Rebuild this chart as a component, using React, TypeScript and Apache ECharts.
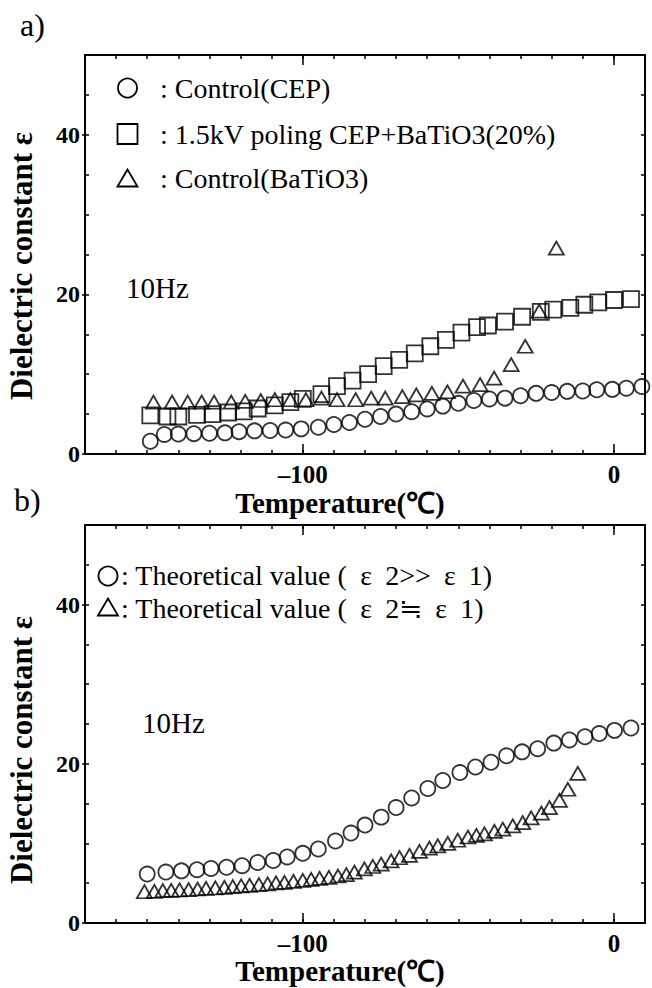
import React, { useEffect, useRef } from 'react';
import * as echarts from 'echarts';

// ---- tick values ----
const xMajorTicks = [-100, 0];
const yMajorTicks = [0, 20, 40];

// ---- panel a ----
const aCepT = [-149, -144.5, -140, -135, -130, -125, -120.5, -115.5, -110.5, -105.5, -100.5, -95, -90, -85, -80, -75, -70, -65, -60, -55, -50, -45, -40, -35, -30, -25, -20, -15, -10, -5.5, -0.5, 4, 9];
const aCepV = [1.6, 2.45, 2.5, 2.55, 2.6, 2.65, 2.8, 2.9, 2.95, 3.0, 3.15, 3.35, 3.7, 3.95, 4.35, 4.7, 5.0, 5.3, 5.65, 6.0, 6.35, 6.7, 6.9, 7.0, 7.3, 7.6, 7.7, 7.85, 7.9, 8.05, 8.1, 8.25, 8.45];

const aPolT = [-149, -143.5, -140, -134, -129, -124, -119, -114.5, -109, -104, -100, -94, -89, -84, -79, -74, -69, -64, -59, -54, -49, -44, -40.5, -35, -29.5, -23.5, -19.5, -14, -9.5, -5, 0, 5.5];
const aPolV = [4.85, 4.7, 4.7, 4.9, 5.0, 5.2, 5.35, 5.7, 6.1, 6.5, 6.9, 7.5, 8.5, 9.2, 10.0, 11.0, 11.8, 12.6, 13.5, 14.3, 15.2, 15.9, 16.1, 16.6, 17.2, 17.8, 18.1, 18.3, 18.7, 19.0, 19.3, 19.4];

const aBtoT = [-148, -142, -137, -132.5, -128.5, -123, -118.5, -113.5, -109, -104, -99, -94, -89, -83, -78, -73.5, -68, -63.5, -58.5, -53.5, -48.5, -43, -38.5, -33, -28.5, -24, -18.5];
const aBtoV = [6.5, 6.5, 6.5, 6.5, 6.5, 6.5, 6.6, 6.7, 6.8, 6.8, 6.8, 7.0, 6.8, 6.8, 7.0, 7.0, 7.2, 7.4, 7.6, 7.8, 8.5, 8.7, 9.5, 11.2, 13.5, 17.9, 25.8];

// ---- panel b ----
const bHighT = [-150, -144, -139, -134, -129.5, -124.5, -119.5, -114.5, -109.5, -105, -100, -95, -89.5, -84.5, -80, -74.8, -70, -65, -59.8, -55, -49.5, -44.5, -39.5, -34.5, -29.5, -24.5, -19.3, -14.3, -9.3, -4.7, 0.2, 5.5];
const bHighV = [6.15, 6.4, 6.55, 6.7, 6.85, 7.0, 7.2, 7.6, 7.85, 8.3, 8.75, 9.3, 10.3, 11.3, 12.3, 13.3, 14.5, 15.7, 16.9, 17.9, 18.9, 19.6, 20.2, 21.0, 21.5, 21.9, 22.6, 23.0, 23.4, 23.8, 24.2, 24.5];

const bEqT = [-150.9, -147.7, -145.0, -142.3, -139.6, -136.7, -133.8, -131.1, -128.1, -125.2, -122.5, -119.8, -117.1, -114.1, -111.3, -108.6, -105.9, -103.0, -100.0, -97.3, -94.6, -91.6, -88.7, -86.0, -83.4, -80.2, -77.5, -74.8, -71.6, -68.9, -65.7, -62.5, -59.3, -56.6, -53.4, -50.2, -46.9, -44.2, -41.6, -38.4, -35.7, -32.5, -29.3, -26.6, -23.3, -20.7, -17.5, -14.8, -11.6];
const bEqV = [3.93, 3.97, 4.06, 4.1, 4.15, 4.19, 4.27, 4.36, 4.4, 4.48, 4.56, 4.65, 4.73, 4.81, 4.9, 5.03, 5.11, 5.23, 5.36, 5.49, 5.61, 5.74, 5.9, 6.07, 6.4, 6.8, 7.1, 7.4, 7.8, 8.2, 8.5, 9.0, 9.4, 9.7, 10.0, 10.4, 10.8, 11.0, 11.2, 11.5, 11.8, 12.2, 12.6, 13.2, 13.8, 14.5, 15.4, 16.8, 18.8];

const serif = "'Liberation Serif', 'Times New Roman', serif";

const pairs = (t: number[], v: number[]) => t.map((x, i) => [x, v[i]]);
const fmtX = (v: number) => (v < 0 ? '\u2013' + Math.abs(v) : String(v));

const tickStyle = { color: '#000', width: 1.5 };

function xAxes(gridIndex: number) {
  const base = { type: 'value', gridIndex, min: -170, max: 10, interval: 10, splitLine: { show: false } };
  const line = { show: true, onZero: false, lineStyle: { color: '#000', width: 2 } };
  const noLine = { show: false, onZero: false };
  return [
    { ...base, position: 'bottom', axisLine: line, axisTick: { show: true, inside: true, length: 4, lineStyle: tickStyle }, axisLabel: { show: false } },
    {
      ...base, position: 'bottom', axisLine: noLine,
      axisTick: { show: true, inside: true, length: 10, customValues: xMajorTicks, lineStyle: tickStyle },
      axisLabel: { show: true, customValues: xMajorTicks, formatter: fmtX, fontSize: 25, lineHeight: 24, fontWeight: 'bold', fontFamily: serif, color: '#000', margin: 8 },
    },
    { ...base, position: 'top', axisLine: line, axisTick: { show: true, inside: true, length: 4, lineStyle: tickStyle }, axisLabel: { show: false } },
    { ...base, position: 'top', axisLine: noLine, axisTick: { show: true, inside: true, length: 10, customValues: xMajorTicks, lineStyle: tickStyle }, axisLabel: { show: false } },
  ];
}

function yAxes(gridIndex: number) {
  const base = { type: 'value', gridIndex, min: 0, max: 50, interval: 5, splitLine: { show: false } };
  const line = { show: true, onZero: false, lineStyle: { color: '#000', width: 2 } };
  return [
    { ...base, position: 'left', axisLine: line, axisTick: { show: true, inside: true, length: 4, lineStyle: tickStyle }, axisLabel: { show: false } },
    {
      ...base, position: 'left', axisLine: { show: false, onZero: false },
      axisTick: { show: true, inside: false, length: 3, customValues: yMajorTicks, lineStyle: tickStyle },
      axisLabel: { show: true, customValues: yMajorTicks, fontSize: 24, fontWeight: 'bold', fontFamily: serif, color: '#000', margin: 5 },
    },
    { ...base, position: 'right', axisLine: line, axisTick: { show: true, inside: true, length: 4, lineStyle: tickStyle }, axisLabel: { show: false } },
  ];
}

const hollow = { color: 'rgba(0,0,0,0)', borderColor: '#000', borderWidth: 1.8 };

function scatter(name: string, data: number[][], symbol: string, size: any, xi: number, yi: number) {
  return {
    type: 'scatter', name, data, symbol, symbolSize: size,
    xAxisIndex: xi, yAxisIndex: yi, itemStyle: hollow, silent: true,
    emphasis: { disabled: true },
  };
}

function txt(text: string, x: number, y: number, size: number, opts: any = {}) {
  return {
    type: 'text', x, y, rotation: opts.rotation || 0,
    style: {
      text, fontSize: size, fontFamily: opts.family || serif, fontWeight: opts.weight || 'normal',
      lineHeight: opts.lineHeight || size,
      fill: '#000', align: opts.align || 'left', verticalAlign: 'middle', rich: opts.rich,
    },
  };
}

const symStyle = { fill: 'none', stroke: '#000', lineWidth: 1.8 };
function legCircle(cx: number, cy: number) {
  return { type: 'circle', shape: { cx, cy, r: 9.5 }, style: symStyle };
}
function legSquare(cx: number, cy: number) {
  return { type: 'rect', shape: { x: cx - 10, y: cy - 10, width: 20, height: 20 }, style: symStyle };
}
function legTri(cx: number, cy: number) {
  return { type: 'polygon', shape: { points: [[cx - 10, cy + 8.5], [cx, cy - 8.5], [cx + 10, cy + 8.5]] }, style: symStyle };
}

const richB = {
  t: { fontSize: 28, lineHeight: 26, fontFamily: serif },
  e: { fontSize: 28, lineHeight: 26, fontFamily: serif, width: 24, align: 'center' },
};

export default function App() {
  const ref = useRef<HTMLDivElement>(null);
  useEffect(() => {
    if (!ref.current) return;
    const chart = echarts.init(ref.current, undefined, { renderer: 'svg' });
    const option: any = {
      animation: false,
      backgroundColor: '#fff',
      grid: [
        { left: 85, top: 55, width: 560, height: 399 },
        { left: 85, top: 525, width: 560, height: 398 },
      ],
      xAxis: [...xAxes(0), ...xAxes(1)],
      yAxis: [...yAxes(0), ...yAxes(1)],
      series: [
        scatter('Control(CEP)', pairs(aCepT, aCepV), 'circle', 15, 0, 0),
        scatter('1.5kV poling CEP+BaTiO3(20%)', pairs(aPolT, aPolV), 'rect', 16, 0, 0),
        scatter('Control(BaTiO3)', pairs(aBtoT, aBtoV), 'triangle', [15, 13], 0, 0),
        scatter('Theoretical value (ε2>>ε1)', pairs(bHighT, bHighV), 'circle', 15, 4, 3),
        scatter('Theoretical value (ε2≒ε1)', pairs(bEqT, bEqV), 'triangle', [15, 13], 4, 3),
      ],
      graphic: [
        txt('a)', 20, 25, 32),
        txt('b)', 14, 500, 32),
        // panel a legend
        legCircle(127.5, 88),
        txt(': Control(CEP)', 160, 88, 28),
        legSquare(127.5, 134),
        txt(': 1.5kV poling CEP+BaTiO3(20%)', 160, 134, 28),
        legTri(127.5, 178),
        txt(': Control(BaTiO3)', 160, 178, 28),
        txt('10Hz', 126, 288, 29),
        // panel b legend
        legCircle(108, 576),
        txt('{t|: Theoretical value ( }{e|ε}{t| 2>> }{e|ε}{t| 1)}', 121, 575, 28, { rich: richB }),
        legTri(108, 607),
        txt('{t|: Theoretical value ( }{e|ε}{t| 2≒ }{e|ε}{t| 1)}', 121, 608, 28, { rich: richB }),
        txt('10Hz', 142, 723, 29),
        // axis names
        txt('Dielectric constant ε', 21, 266, 31, { weight: 'bold', align: 'center', rotation: Math.PI / 2 }),
        txt('Dielectric constant ε', 21, 750, 31, { weight: 'bold', align: 'center', rotation: Math.PI / 2 }),
        txt('Temperature(℃)', 340, 503, 29, { weight: 'bold', align: 'center' }),
        txt('Temperature(℃)', 340, 971, 29, { weight: 'bold', align: 'center' }),
      ],
    };
    chart.setOption(option);
    return () => chart.dispose();
  }, []);
  return <div ref={ref} style={{ position: 'absolute', left: 0, top: 0, width: 652, height: 988 }} />;
}
